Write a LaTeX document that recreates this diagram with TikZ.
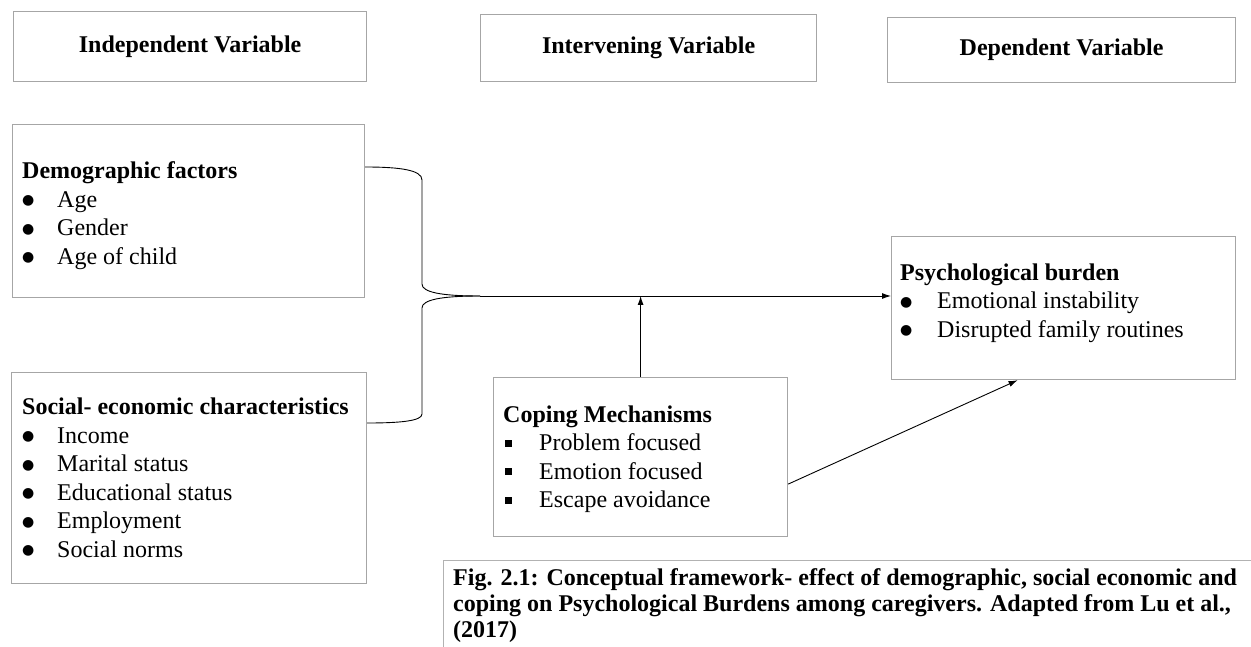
\documentclass[tikz,border=0pt]{standalone}
\usepackage{fontspec}
\setmainfont{Liberation Serif}
\newfontfamily\symfont{DejaVu Sans}
\usepackage{array}
\usetikzlibrary{arrows.meta}

% list markers
\newcommand{\dotmark}{\raisebox{2.5pt}{\symfont\fontsize{14}{14}\selectfont ●}}
\newcommand{\sqmark}{\hspace{2pt}\rule[4pt]{7pt}{7pt}}

\begin{document}
\begin{tikzpicture}[x=1pt,y=-1pt,
    font={\fontsize{24}{28.5}\selectfont},
    box/.style={draw=black!35, line width=1.2pt, anchor=north west, inner sep=0pt},
    hdr/.style={box, font={\fontsize{24}{28.5}\selectfont\bfseries}},
    txt/.style={anchor=base west, inner sep=0pt},
    link/.style={line width=0.9pt},
    arr/.style={link, -{Latex[length=9pt,width=6pt]}}]
  \useasboundingbox (0,0) rectangle (1251,647);

  % headings
  \node[hdr, minimum width=353pt, minimum height=70pt] (indep) at (13,11) {Independent Variable};
  \node[hdr, minimum width=336pt, minimum height=67pt] (interv) at (480,14) {Intervening Variable};
  \node[hdr, minimum width=348pt, minimum height=65pt] (depend) at (887,17) {Dependent Variable};

  % boxes
  \node[box, minimum width=352pt, minimum height=173pt] (demo) at (12,124) {};
  \node[box, minimum width=355pt, minimum height=211pt] (socio) at (11,372) {};
  \node[box, minimum width=344pt, minimum height=143pt] (psych) at (891,236) {};
  \node[box, minimum width=294pt, minimum height=159pt] (coping) at (493,377) {};

  \node[txt] (demotext) at (22,179) {\begin{tabular}[t]{@{}p{35pt}@{}l@{}}
    \multicolumn{2}{@{}l@{}}{\bfseries Demographic factors}\\
    \dotmark & Age\\
    \dotmark & Gender\\
    \dotmark & Age of child
  \end{tabular}};
  \node[txt] (sociotext) at (22,414.5) {\begin{tabular}[t]{@{}p{35pt}@{}l@{}}
    \multicolumn{2}{@{}l@{}}{\bfseries Social- economic characteristics}\\
    \dotmark & Income\\
    \dotmark & Marital status\\
    \dotmark & Educational status\\
    \dotmark & Employment\\
    \dotmark & Social norms
  \end{tabular}};
  \node[txt] (psychtext) at (900,280) {\begin{tabular}[t]{@{}p{37pt}@{}l@{}}
    \multicolumn{2}{@{}l@{}}{\bfseries Psychological burden}\\
    \dotmark & Emotional instability\\
    \dotmark & Disrupted family routines
  \end{tabular}};
  \node[txt] (copingtext) at (503,422) {\begin{tabular}[t]{@{}p{36pt}@{}l@{}}
    \multicolumn{2}{@{}l@{}}{\bfseries Coping Mechanisms}\\
    \sqmark & Problem focused\\
    \sqmark & Emotion focused\\
    \sqmark & Escape avoidance
  \end{tabular}};

  % caption
  \node[box, draw=black!30, minimum width=830pt, minimum height=120pt] (capbox) at (443,560) {};
  \node[txt, font={\fontsize{24}{26}\selectfont\bfseries}] (caption) at (453,585) {\begin{tabular}[t]{@{}l@{}}
    Fig. 2.1: Conceptual framework- effect of demographic, social economic and\\
    coping on Psychological Burdens among caregivers. Adapted from Lu et al.,\\
    (2017)
  \end{tabular}};

  % brace joining the two independent boxes
  \coordinate (tip) at (480,296);
  \draw[link] ([yshift=-43pt]demo.north east) .. controls (400,167) and (422,170) .. (422,180)
    -- (422,284) .. controls (422,292) and (440,296) .. (tip);
  \draw[link] (tip) .. controls (440,296) and (422,300) .. (422,308)
    -- (422,414) .. controls (422,421) and (400,423) .. ([yshift=-51pt]socio.north east);

  % arrows
  \draw[arr] (tip) -- (tip -| psych.west);
  \draw[arr] (coping.north) -- (coping.north |- tip);
  \draw[arr] ([yshift=-27pt]coping.east) -- ([xshift=-46pt]psych.south);
\end{tikzpicture}
\end{document}
